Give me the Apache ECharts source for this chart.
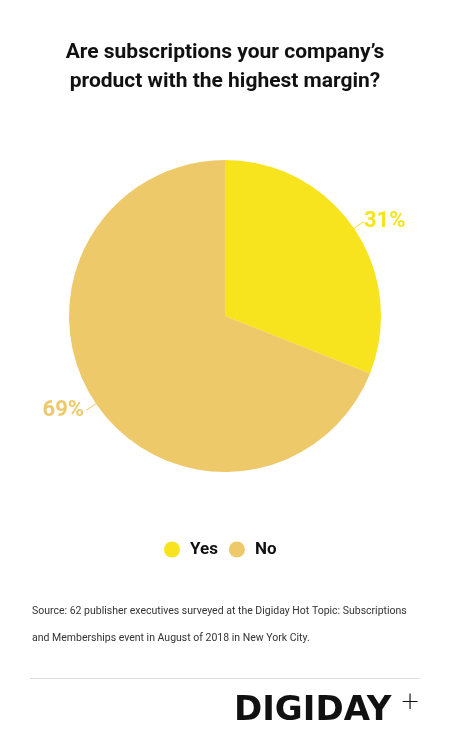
<!DOCTYPE html>
<html>
<head>
<meta charset="utf-8">
<script src="https://cdn.jsdelivr.net/npm/echarts@6/dist/echarts.min.js"></script>
<style>
  html, body { margin: 0; padding: 0; background: #fff; }
  #chart { width: 450px; height: 748px; }
</style>
</head>
<body>
<div id="chart"></div>
<script>
// data
var categories = ['Yes', 'No'];
var values = [31, 69];
var colors = ['#F7E41F', '#EDC96A'];
// small nudges so the labels sit where the original puts them
var labelPadding = [[0, 0, 6, 0], [10, 2, 0, 0]];

var chart = echarts.init(document.getElementById('chart'));

var pieData = categories.map(function (name, i) {
  return {
    name: name,
    value: values[i],
    itemStyle: { color: colors[i] },
    label: { color: colors[i], padding: labelPadding[i] },
    labelLine: { lineStyle: { color: colors[i] } }
  };
});

chart.setOption({
  backgroundColor: '#fff',
  title: {
    text: 'Are subscriptions your company\u2019s\nproduct with the highest margin?',
    left: 'center',
    top: 33,
    textStyle: {
      fontFamily: 'Roboto',
      fontWeight: 'bold',
      fontSize: 21,
      lineHeight: 29,
      color: '#111'
    }
  },
  legend: {
    top: 536,
    left: 159,
    icon: 'circle',
    itemWidth: 16,
    itemHeight: 16,
    itemGap: 11,
    textStyle: {
      fontFamily: 'Roboto',
      fontWeight: 'bold',
      fontSize: 17,
      color: '#111',
      padding: [0, 0, 0, 5]
    },
    data: categories
  },
  series: [{
    type: 'pie',
    center: [225, 316],
    radius: 156,
    startAngle: 90,
    clockwise: true,
    label: {
      show: true,
      formatter: '{c}%',
      fontFamily: 'Roboto',
      fontWeight: 'bold',
      fontSize: 22,
      distanceToLabelLine: 0
    },
    labelLine: {
      show: true,
      length: 12,
      length2: 0,
      lineStyle: { width: 1 }
    },
    emphasis: { disabled: true },
    data: pieData
  }],
  graphic: [
    {
      type: 'text',
      left: 32,
      top: 598,
      style: {
        text: 'Source: 62 publisher executives surveyed at the Digiday Hot Topic: Subscriptions\nand Memberships event in August of 2018 in New York City.',
        fontFamily: 'Roboto',
        fontSize: 10.5,
        lineHeight: 27,
        fill: '#333'
      }
    },
    {
      type: 'line',
      shape: { x1: 30, y1: 678.5, x2: 420, y2: 678.5 },
      style: { stroke: '#dddddd', lineWidth: 1 }
    },
    {
      type: 'text',
      left: 234,
      top: 694,
      style: {
        text: 'DIGIDAY',
        fontFamily: 'DejaVu Sans',
        fontWeight: 'bold',
        fontSize: 34,
        fill: '#111'
      }
    },
    {
      type: 'text',
      left: 400,
      top: 691,
      style: {
        text: '+',
        fontFamily: 'DejaVu Sans',
        fontWeight: 'lighter',
        fontSize: 24,
        fill: '#111'
      }
    }
  ]
});
</script>
</body>
</html>
